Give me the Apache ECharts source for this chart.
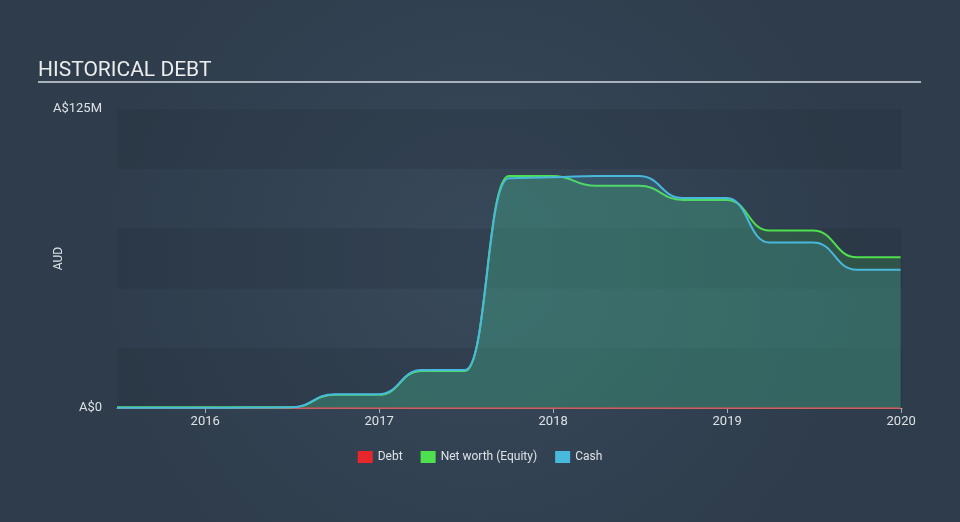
<!DOCTYPE html>
<html>
<head>
<meta charset="utf-8">
<script src="https://cdn.jsdelivr.net/npm/echarts@6/dist/echarts.min.js"></script>
<style>
html,body{margin:0;padding:0;background:#334354;}
#c{width:960px;height:522px;}
</style>
</head>
<body>
<div id="c"></div>
<script>
// Data (values in A$ millions)
const dates = ['2015-06-30','2015-09-30','2015-12-31','2016-03-31','2016-06-30','2016-09-30','2016-12-31','2017-03-31','2017-06-30','2017-09-30','2017-12-31','2018-03-31','2018-06-30','2018-09-30','2018-12-31','2019-03-31','2019-06-30','2019-09-30','2019-12-31'];
const debt = [0,0,0,0,0,0,0,0,0,0,0,0,0,0,0,0,0,0,0];
const netWorth = [0.3,0.3,0.3,0.3,0.3,5.5,5.5,15.5,15.5,97.0,97.0,92.9,92.9,87.0,87.0,74.2,74.2,63.0,63.0];
const cash = [0.1,0.1,0.1,0.2,0.3,5.8,5.8,15.9,15.9,96.1,96.5,97.0,97.0,87.8,87.8,69.2,69.2,57.8,57.8];
const yearTicks = [2016,2017,2018,2019,2020];
const yMax = 125;
const yTickLabels = {0:'A$0',125:'A$125M'};

function toYear(s){
  const d = new Date(s+'T00:00:00Z');
  const y = d.getUTCFullYear();
  const a = Date.UTC(y,0,1), b = Date.UTC(y+1,0,1);
  return y + (d.getTime()-a)/(b-a);
}
const xs = dates.map(toYear);
const pair = arr => arr.map((v,i)=>[xs[i],v]);

const chart = echarts.init(document.getElementById('c'), null, {renderer:'canvas'});
const font = 'Roboto, "Noto Sans", sans-serif';
chart.setOption({
  backgroundColor: {
    type:'radial', x:0.5, y:0.5, r:0.75,
    colorStops:[{offset:0,color:'#38495b'},{offset:1,color:'#2e3c4b'}]
  },
  textStyle:{fontFamily:font},
  animation:false,
  title:{
    text:'HISTORICAL DEBT', left:33, top:55,
    textStyle:{color:'#ececec', fontSize:21, fontWeight:'normal', fontFamily:font}
  },
  graphic:[{
    type:'line', shape:{x1:38,y1:82,x2:921,y2:82},
    style:{stroke:'#aab2bb', lineWidth:2}
  }],
  grid:{left:117, right:58, top:109, bottom:114},
  legend:{
    bottom:54, left:'center', itemWidth:15, itemHeight:12, itemGap:18,
    textStyle:{color:'#dde2e6', fontSize:12, fontFamily:font},
    data:[
      {name:'Debt', icon:'rect', itemStyle:{color:'#e8262b'}},
      {name:'Net worth (Equity)', icon:'rect', itemStyle:{color:'#4fe04f'}},
      {name:'Cash', icon:'rect', itemStyle:{color:'#48b8dc'}}
    ]
  },
  xAxis:{
    type:'value', min:xs[0], max:2020.005,
    axisLine:{show:true, lineStyle:{color:'#a4adb8', width:1}},
    axisTick:{show:true, customValues:yearTicks, length:5, lineStyle:{color:'#a4adb8'}},
    axisLabel:{customValues:yearTicks, color:'#dde2e6', fontSize:13, margin:7, formatter:v=>String(Math.round(v))},
    splitLine:{show:false}
  },
  yAxis:{
    type:'value', min:0, max:yMax, interval:25,
    name:'AUD', nameLocation:'middle', nameGap:52, nameRotate:90, nameMoveOverlap:false,
    nameTextStyle:{color:'#dde2e6', fontSize:12},
    axisLine:{show:false}, axisTick:{show:false},
    axisLabel:{color:'#dde2e6', fontSize:13, margin:15, formatter:v=>yTickLabels[v]||''},
    splitLine:{show:false},
    splitArea:{show:true, areaStyle:{color:['rgba(36,48,62,0.28)','rgba(58,74,92,0.05)']}}
  },
  series:[
    {
      name:'Debt', type:'line', data:pair(debt), symbol:'none', smooth:true, smoothMonotone:'x',
      lineStyle:{color:'#e8262b', width:1.5}, itemStyle:{color:'#e8262b'}, z:2
    },
    {
      name:'Net worth (Equity)', type:'line', data:pair(netWorth), symbol:'none', smooth:0.5, smoothMonotone:'x',
      lineStyle:{color:'#4fe04f', width:2}, itemStyle:{color:'#4fe04f'},
      areaStyle:{color:'rgba(75,214,75,0.25)'}, z:3
    },
    {
      name:'Cash', type:'line', data:pair(cash), symbol:'none', smooth:0.5, smoothMonotone:'x',
      lineStyle:{color:'#48b8dc', width:2}, itemStyle:{color:'#48b8dc'},
      areaStyle:{color:'rgba(74,181,214,0.25)'}, z:4
    }
  ]
});
</script>
</body>
</html>
